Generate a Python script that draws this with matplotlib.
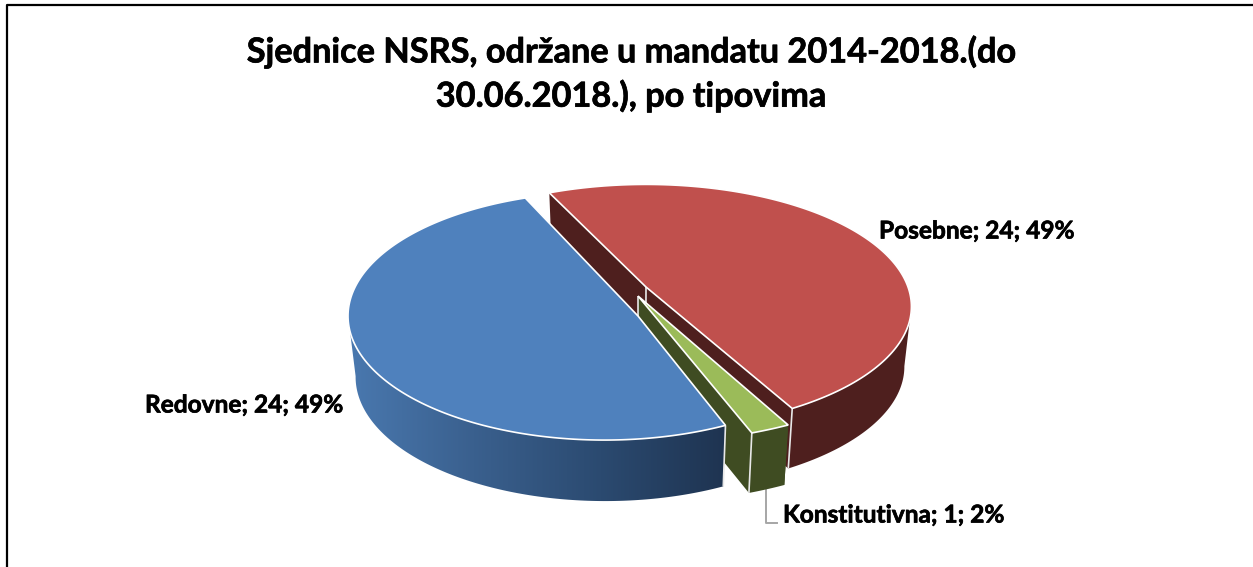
import numpy as np
import matplotlib
matplotlib.use("Agg")
import matplotlib.pyplot as plt
import matplotlib.patheffects as pe
from matplotlib.colors import LinearSegmentedColormap
from matplotlib.patches import Polygon

# data
names = ["Redovne", "Konstitutivna", "Posebne"]
values = [24, 1, 24]
percent = [49, 2, 49]
title = "Sjednice NSRS, održane u mandatu 2014-2018.(do\n30.06.2018.), po tipovima"

# look
start_angle = 115
top_colors = ["#4f81bd", "#9bbb59", "#c0504d"]
side_colors = ["#4f81bd", "#3f4c22", "#4e1f1e"]
# apex x, apex y, radius x, radius y, perspective x, perspective y
views = [
    (638, 316, 252, 123, 0.131, 0.0),
    (638, 296, 313, 147, 0.0, 0.0),
    (646, 287, 262, 119, 0.0, 0.16),
]
depths = [61, 60, 60]
label_pos = [(145, 405), (783, 515), (879, 231)]

plt.rcParams["font.family"] = ["Lato", "DejaVu Sans"]
plt.rcParams["font.weight"] = "bold"

# Lato bold is a bit thinner than the original font
heavier = [pe.withStroke(linewidth=0.5, foreground="black")]


def rim(view, t1, t2, n=200):
    px, py, a, b, kx, ky = view
    t = np.radians(np.linspace(t1, t2, n))
    d = 1 + kx * np.cos(t) + ky * np.sin(t)
    return px + a * np.cos(t) / d, py - b * np.sin(t) / d


def lower(x, y, depth):
    # the lower edge leans a little towards the middle of the pie
    return 640 + (np.asarray(x) - 640) * 0.974, np.asarray(y) + depth


def wall(ax, x, y, depth, color, z):
    bx, by = lower(x, y, depth)
    pts = np.column_stack([np.r_[x, bx[::-1]], np.r_[y, by[::-1]]])
    p = Polygon(pts, closed=True, fc=color, ec="none", zorder=z)
    ax.add_patch(p)
    return p


def white_line(ax, x, y, depth, z):
    bx, by = lower([x], [y], depth)
    ax.plot([x, bx[0]], [y, by[0]], color="#e8e8e8", lw=1.2, zorder=z, solid_capstyle="butt")


fig = plt.figure(figsize=(12.53, 5.67), dpi=100)
ax = fig.add_axes([0, 0, 1, 1])
ax.set_xlim(0, 1253)
ax.set_ylim(567, 0)
ax.axis("off")

# the frame only shows on the left and on top
ax.plot([7, 7, 1256], [570, 5, 5], color="black", lw=1.6, zorder=1)

angles = start_angle + np.r_[0, np.cumsum(values)] / sum(values) * 360

# red goes first, then green, blue lies on top of both
z = 2
for i in [2, 1, 0]:
    t1, t2 = angles[i], angles[i + 1]
    view = views[i]
    depth = depths[i]
    x, y = rim(view, t1, t2)
    ax_px, ax_py = view[0], view[1]

    if i == 0:
        # outer side only from the leftmost rim point, blue has a gradient
        k = np.argmin(x)
        p = wall(ax, x[k:], y[k:], depth, "none", z)
        cmap = LinearSegmentedColormap.from_list("side", ["#4a79b0", "#3a608e", "#2b4a70", "#1e3350"])
        im = ax.imshow(np.linspace(0, 1, 256).reshape(1, -1), cmap=cmap, aspect="auto",
                       extent=(345, 730, 510, 300), zorder=z, interpolation="bilinear")
        im.set_clip_path(p)
        ax.set_xlim(0, 1253)
        ax.set_ylim(567, 0)
    else:
        # outer side ends at the rightmost rim point
        k = np.argmax(x)
        wall(ax, x[:k + 1], y[:k + 1], depth, side_colors[i], z)
        # cut faces from the apex to the rim
        for ex, ey in [(x[0], y[0]), (x[-1], y[-1])]:
            wall(ax, np.array([ax_px, ex]), np.array([ax_py, ey]), depth, side_colors[i], z)
        white_line(ax, ax_px, ax_py, depth, z + 0.2)
    white_line(ax, x[0] if i else x[-1], y[0] if i else y[-1], depth, z + 0.2)

    pts = np.column_stack([np.r_[ax_px, x], np.r_[ax_py, y]])
    ax.add_patch(Polygon(pts, closed=True, fc=top_colors[i], ec="white", lw=1.2,
                         joinstyle="miter", zorder=z + 0.5))
    z += 1

for i in range(3):
    ax.text(label_pos[i][0], label_pos[i][1], f"{names[i]}; {values[i]}; {percent[i]}%",
            fontsize=17.6, color="black", ha="left", va="center", zorder=8,
            path_effects=heavier)

# leader line to the small slice
ax.plot([766, 766, 777], [490, 523, 523], color="#a6a6a6", lw=1.4, zorder=1.5)

ax.text(631, 74, title, fontsize=24.7, color="black", ha="center", va="center",
        linespacing=1.41, zorder=8, path_effects=heavier)

fig.savefig("out.png", dpi=100)
